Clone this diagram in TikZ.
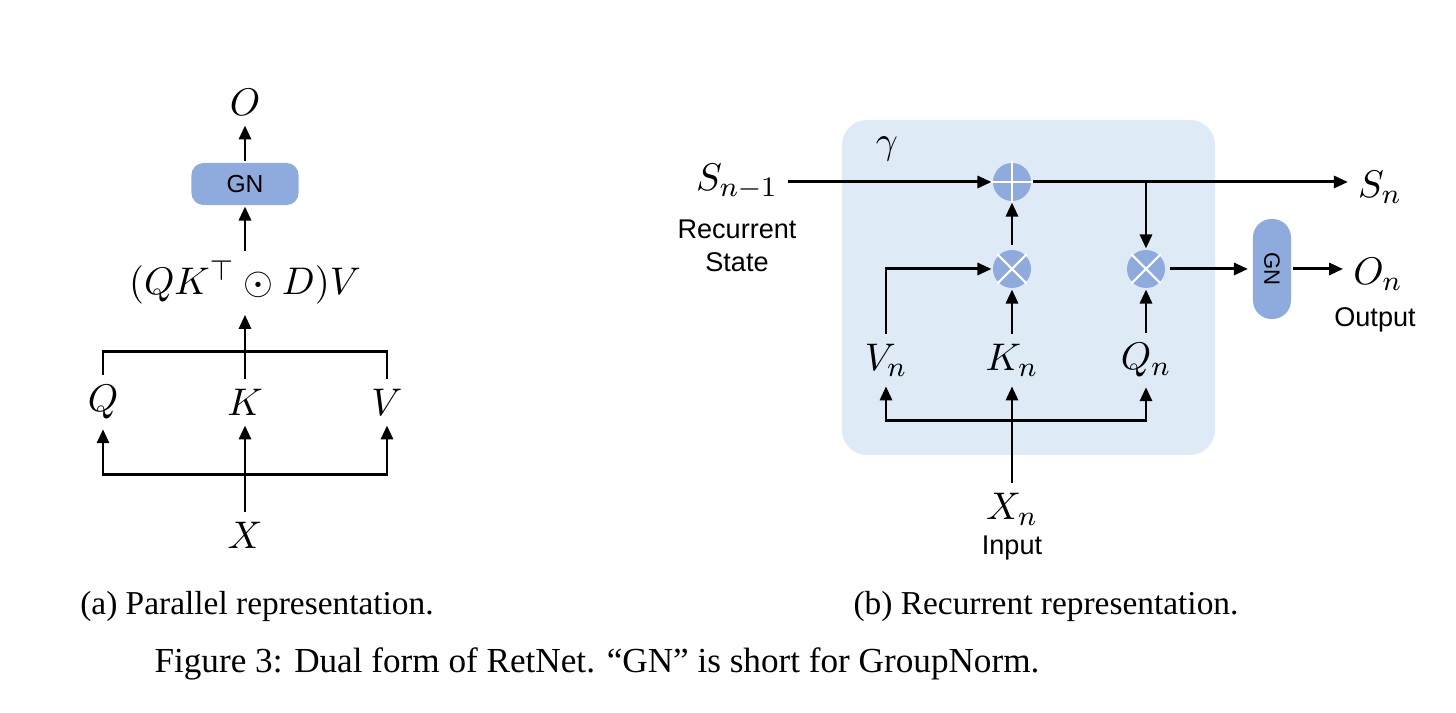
\documentclass[tikz,border=0pt]{standalone}
\usepackage{amsmath, amssymb}
\usepackage[no-math]{fontspec}
\setmainfont{Liberation Serif}
\newfontfamily\arial{Liberation Sans}
\usepackage{tikz}
\usetikzlibrary{arrows.meta}

\definecolor{gnblue}{HTML}{8FAADC}
\definecolor{cellblue}{HTML}{DEEBF7}

\begin{document}
\begin{tikzpicture}[
		x = 0.01cm, y = -0.01cm, line width = 0.85pt,
		>={Triangle[length=1.4mm, width=1.2mm]},
		every node/.style = {inner sep = 2.5pt, font = \fontsize{11}{13}\selectfont},
		gnbox/.style = {fill = gnblue, rounded corners = 1.2mm, minimum width = 10.7mm,
			minimum height = 4.2mm, inner sep = 0pt, font = \arial\fontsize{7}{8}\selectfont},
		op/.style = {circle, fill = gnblue, minimum size = 3.8mm, inner sep = 0pt},
		cross/.style = {white, line width = 0.6pt},
		sans/.style = {font = \arial\fontsize{7.7}{9.2}\selectfont, align = center},
		caption/.style = {font = \fontsize{9.5}{11}\selectfont}
		]
		\useasboundingbox (0,0) rectangle (1456,713);
		
		% (a) parallel
		\node (O) at (245,102) {$O$};
		\node[gnbox] (GN) at (245,184) {GN};
		\node (ret) at (245,283) {$(QK^{\top}\odot D)V$};
		\node (Q) at (103,402) {$Q$};
		\node (K) at (245,402) {$K$};
		\node (V) at (387,402) {$V$};
		\node (X) at (245,535) {$X$};
		\coordinate (qkv) at (245,352);
		\coordinate (xsplit) at (245,475);
		
		\draw[->] (GN) -- (O);
		\draw[->] (ret) -- (GN);
		\draw (Q) |- (qkv) -| (V);
		\draw (K) -- (qkv);
		\draw[->] (qkv) -- (ret);
		\draw[->] (X) -- (K);
		\draw[->] (xsplit) -| (Q);
		\draw[->] (xsplit) -| (V);
		
		% (b) recurrent
		\fill[cellblue, rounded corners = 2.5mm] (842,120) rectangle (1215,455);
		\node (Sprev) at (737,182) {$S_{n-1}$};
		\node (gamma) at (887,149) {$\gamma$};
		\node[op] (add) at (1012,182) {};
		\node[op] (mulK) at (1012,269) {};
		\node[op] (mulQ) at (1146,269) {};
		\node[gnbox, rotate = -90, minimum width = 10mm, minimum height = 3.8mm,
			rounded corners = 1.85mm, font = \arial\fontsize{6.3}{7}\selectfont] (GNr) at (1272,269) {GN};
		\node (Sn) at (1380,187) {$S_n$};
		\node (On) at (1378,274) {$O_n$};
		\node (Vn) at (886,360) {$V_n$};
		\node (Kn) at (1012,360) {$K_n$};
		\node (Qn) at (1146,360) {$Q_n$};
		\node (Xn) at (1012,509) {$X_n$};
		\coordinate (split) at (1146,182);
		\coordinate (xbar) at (1012,421);
		
		\draw[cross] (add.north) -- (add.south) (add.west) -- (add.east);
		\draw[cross] (mulK.north west) -- (mulK.south east) (mulK.north east) -- (mulK.south west);
		\draw[cross] (mulQ.north west) -- (mulQ.south east) (mulQ.north east) -- (mulQ.south west);
		
		\draw[->] (Sprev.east |- add) -- (add);
		\draw (add) -- (split);
		\draw[->] (split) -- (Sn.west |- split);
		\draw[->] (split) -- (mulQ);
		\draw[->, shorten <= 1pt, shorten >= 1pt] (mulQ) -- (GNr);
		\draw[->] (GNr) -- (On.west |- GNr);
		\draw[->, shorten <= 1pt] (mulK) -- (add);
		\draw[->] (Vn) |- (mulK);
		\draw[->] (Kn) -- (mulK);
		\draw[->] (Qn) -- (mulQ);
		\draw[->] (Xn) -- (Kn);
		\draw[->] (xbar) -| (Vn);
		\draw[->] (xbar) -| (Qn);
		
		% Labels
		\begin{scope}[nodes = {sans}]
			\node (rstate) at (737,246) {Recurrent\\State};
			\node (outlbl) at (1375,320) {Output};
			\node (inlbl) at (1012,548) {Input};
		\end{scope}
		
		% Captions
		\begin{scope}[nodes = {caption}]
			\node (capa) at (257,606) {(a) Parallel representation.};
			\node (capb) at (1046,606) {(b) Recurrent representation.};
			\node[font = \fontsize{10}{12}\selectfont] (cap) at (597,664) {Figure 3: Dual form of RetNet. “GN” is short for GroupNorm.};
		\end{scope}
	\end{tikzpicture}
\end{document}
